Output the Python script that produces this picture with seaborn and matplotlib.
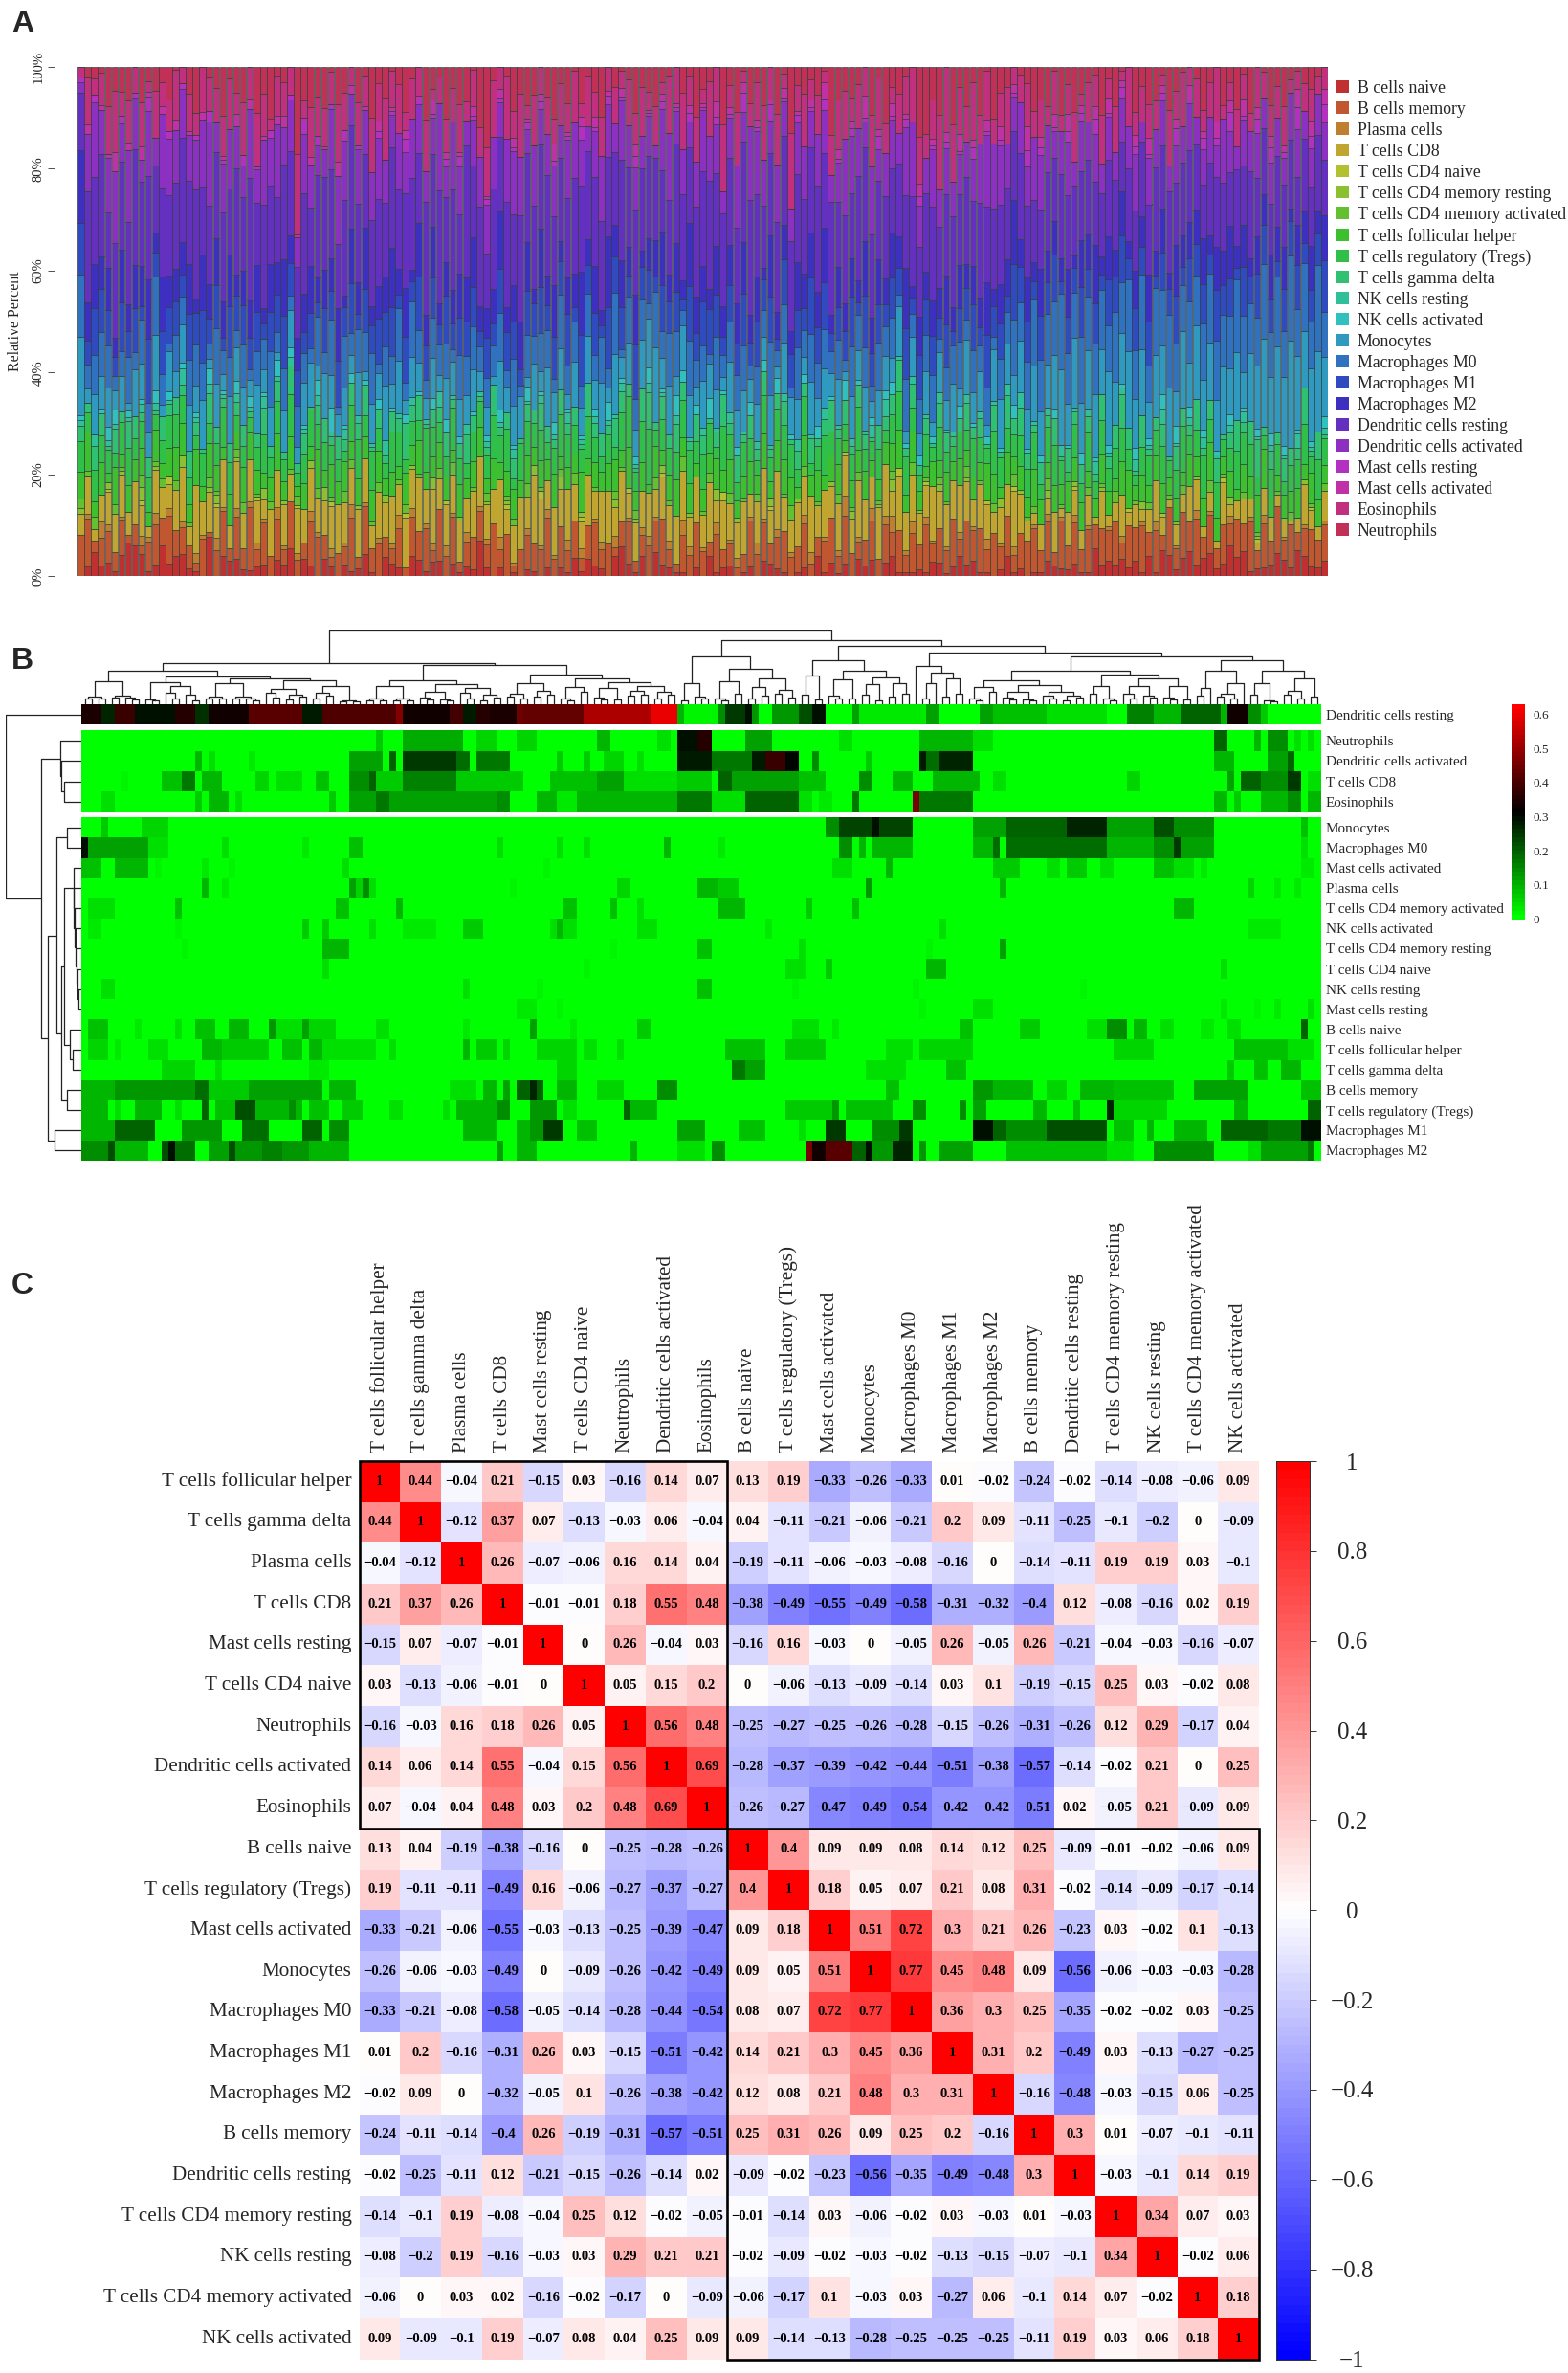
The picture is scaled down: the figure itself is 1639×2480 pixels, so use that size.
# Immune cell fractions: stacked bars, clustered heatmap, correlation matrix
import numpy as np
import pandas as pd
import matplotlib
matplotlib.use("Agg")
import matplotlib.pyplot as plt
from matplotlib.colors import LinearSegmentedColormap
from matplotlib.patches import Patch, Rectangle
import seaborn as sns

W, H = 1639, 2480
N = 185

cell_types = ["B cells naive", "B cells memory", "Plasma cells", "T cells CD8", "T cells CD4 naive",
              "T cells CD4 memory resting", "T cells CD4 memory activated", "T cells follicular helper",
              "T cells regulatory (Tregs)", "T cells gamma delta", "NK cells resting", "NK cells activated",
              "Monocytes", "Macrophages M0", "Macrophages M1", "Macrophages M2", "Dendritic cells resting",
              "Dendritic cells activated", "Mast cells resting", "Mast cells activated", "Eosinophils", "Neutrophils"]

# Panel A: percent per sample, one base-36 character per bar (a=10, b=11, ...)
b_naive = "0262416975 1383642108 0544213304 3604305203 1251053205 4143031227 3020102102 0215143205 7315063211 0204123012 0432101205 1313043403 5111214412 6341102512 0114322311 7343524161 7524735623 8571224652 75324"
b_memory = "8a35a4a252 6a7c8562a1 6b3a6c5b5a 4a54c87265 c3b6a5492a 7a3a6b35a6 8c4a25a67c 4a6a38c572 6a35a8c42a 5a73a4625a 6a58c47a35 8a5c647a59 6b4a8c5a7a 5b8c6a7a49 9c6a4c7a6b 6a8b5a9c7a 4b6a8c6a59 6a8b5a8c6a 57c6a"
plasma = "0103201002 1302010210 3102012103 1020310201 3010201302 0120310201 2030102012 1030201203 0102310204 2010301201 3102010230 1025010302 4013021010 2010301020 0102010201 0010200102 0010020100 2001020010 01001"
cd8 = "4835a8c6a7 2b86ca5f98 7c6ba8d5c9 b6e8c7a9db 8ca6e9c7ba d8f6c9b7ea c8d6ba9fc7 b9ea6c8db7 c6a9e7b8cd 7a9c6ba8e5 bd8fa7c9e8 c7ea9db8fc 6e9ca8fbd8 ea7c95b8da 5374c2a658 2a35c3637a 5264a8352a 3574268351 4a638"
cd4_naive = "0000100001 0002000000 1000001000 0010000100 0000000010 0000100000 0001000020 0000100000 0100001000 0000020000 0010000000 0001000000 0200010000 0000100010 0000000100 0000010000 1000000001 0000100000 00100"
cd4_resting = "1000201003 0100020001 2001000300 1000204000 0100020001 0030001000 1001000200 0300100002 0010002000 1000300100 0020001000 0100200010 3000100200 0100003001 0002000100 0100000200 0010010000 2000100010 01000"
cd4_activated = "2130021003 0120301002 1002301020 0130020103 2001300120 1002030010 3001204010 0203001002 1020030104 0012003010 2000130201 0030120010 2003010210 0301020030 1203010002 0103001020 0102000301 0020100102 00102"
tfh = "5846384756 3847a65847 6384a57469 5736485768 4758a46375 8465739486 5746938475 8365947568 4a57384695 7364859467 5948a63758 4693758465 7a48637594 8465a73846 5a74859674 5863a94756 8473958a64 7385a96475 84a65"
tregs = "6485739a56 7468a57394 5a84637a58 6947a58463 8a5a74a836 5a846a7395 8a6a37a584 6a985a7463 9c5ai4867a 85a63a7495 4a68a75936 a5847a6593 7a96584a63 85a74a9658 7a49c6385a 4968a53796 a48a57c694 6a9753a846 8a597"
gamma = "3264153752 4163527316 4253614735 2635147263 5471625384 6153724651 3724615374 2635184627 5318c26375 2651473625 3624715362 4736254173 5826341762 4735162847 4263817354 2736a51823 6174382561 4835a26374 39261"
nk_resting = "1030210102 0201030102 0102010301 0201020103 0201040102 0103010201 2010301020 1030102011 2010301020 1020103010 2010203010 3010201304 0102010301 0202010304 0102030102 3010203010 4010203010 2030102010 40102"
nk_activated = "1001430201 0302010103 0103020104 0201030501 2010301020 1030402010 2030104010 3010102040 1020501053 0204010203 0304010203 0105010202 3010302010 4010201030 1020301030 1020103020 4050302010 3010204030 10203"
monocytes = "f3a6c4a2b8 5e3a87c6d2 a4c8b3f6a2 b85ac3d76a 4b2a8e6c3a 75b3c8a6d4 a2b6c83a5e 7a4c6b8d3f 5a7cgj8b5c a4d7a3e8b5 a6c3f8b4d7 a5e2b7c4a8 6d3a7b4c9a 5e8b3cfa7d afcbgjchdf gcjbfidhbf dgahcjefdg ciafhkjmlp kenig"
m0 = "c5a8d37c4a 6f82b5c9a3 d6a4c2a8e5 b3d74a6c2e 5b9d3a7c4e 84b6a3c8d5 a7b4e2c6a9 3d8b5a7c4f 2b8a5e7cb4 d6a2e5b8c3 a7d4b2e6c9 a5c3d8b4e7 a3c6b9d4a8 e5b7a3c8da ciedgjfbhe dgcifhdjbg fheahdgifc ejgbdhfiek dhfjc"
m1 = "a5c8b4e7a3 d6b9a4c7e5 a3d8b6c4a9 e7b5a3d6c8 b4a7e9c3a5 d8b4e6a7c3 e5a9b3d7c6 a8e4b7c3d9 a5e8b4c7a3 d6c9b4a7e5 c8b3d7a5e9 c4a7d3e8b5 a7c4e9b6d3 a8c5e7b4d9 a5c8e3b6d7 a4c9e5b7d3 a6e4c8b5d7 a3e6c9b4d8 c5a7e"
m2 = "e8b6d4f7a9 c5e8a6d3f7 b9d5a7e4c8 f6a9d5b7e3 c8e5a9f6b3 d7e4a8c9f5 a8d6b9e3f7 c5a9e6d4f8 b7d4a9e6c5 f8a4d7b9e6 c3f7a5d8b9 e4c7a5f9d6 b8e3c7a9f5 d6a8e4c9f7 b5d8a6e3c9 f5b7d4a8e6 c4f7a9d5b8 e6c4a7f9d3 b8e5c"
dc_resting = "bnmjhkpmrj lhnkqjmoig kmhplnjrkg pimoglrjhq nkhmrjpiln hqkmjogrmk jnhplkqimo gkmqjlpnhi ojmkrlghpn ikqmjlohrp mgknqjohlr jpkmhoqlnj gjhnmkqipj lmhqkjoigm ihgkjlmhij ghkifhgjlk hjigkhfjig ekhjgfhijg dijhf"
dc_activated = "2cj8hfbjc5 d7jeg9cbih 7cfa9dahci ab9ec68dig 7eacjb8d9f c7ah9gd5ea hc8fjb7d9a c8gfa6dhb7 eab8d3gf8c 6ah9d5be8g hc8fa7ec9d b6cjfb7h9a c8gjd9gbe7 c9bgjfib8d ahfc8bg6da c8b7daf5e9 c6b8d7ac8f b6d9c7ea8b d7c9a"
mast_resting = "1020102010 3002010102 0100301020 0104020103 0100201030 1010203010 2010102020 1010301020 1030102010 2010201050 1040102010 3010201040 1020301020 1030102010 4020103020 4010302010 2050103020 5010405020 60405"
mast_activated = "0201040203 1020301020 0103020102 3010201040 2010301020 1040201030 1020301020 4010203010 2030102010 2010402030 2010301020 4030206020 3010402030 5020304020 6030405020 3040203050 2030402040 3050304020 50504"
eosinophils = "2a46fd7b6a 2c68f3a5c7 8ad5f6gb3a 96p4e8b7fa 4b7ecg9b4a 7c35a8d4b6 hd5f8c4b79 6a8e3c7a59 4b8c6a3d9f 7a4b9f6c35 ae8d4g7c5a 39fc6a8df7 4a9ef6bmkc e9f8d6ae47 b7a5d49c3a 8d5c3e69a7 3d8c5a69e3 5a74b6a8c3 57a46"
neutrophils = "0231c57908 3648107a02 5c36a0e7d2 40r8b6c1a7 092d5814a3 0c62f5a71c s302d5b607 c4a1827d05 13c58a4207 2b630d5a18 4a0c2e5637 1fa6840c3d 5720mh9e0c 6a4d1c8502 4c9a1c5b74 2d3a10c5b8 2a7103c409 4b2a01d5c3 14720"

stack_series = [b_naive, b_memory, plasma, cd8, cd4_naive, cd4_resting, cd4_activated, tfh, tregs, gamma, nk_resting,
                nk_activated, monocytes, m0, m1, m2, dc_resting, dc_activated, mast_resting, mast_activated,
                eosinophils, neutrophils]

# Panel B: (first column, last column + 1, fraction), columns not listed are 0
h_dc_resting = [(0, 3, .34), (3, 5, .27), (5, 8, .38), (8, 14, .3), (14, 17, .36), (17, 19, .26), (19, 25, .33), (25, 33, .42), (33, 36, .28), (36, 47, .41), (47, 48, .47), (48, 55, .33), (55, 57, .4), (57, 59, .28), (59, 61, .36), (61, 65, .34), (65, 66, .45), (66, 75, .43), (75, 85, .52), (85, 89, .6), (89, 90, .1), (90, 95, .02), (95, 96, .15), (96, 99, .25), (99, 100, .3), (100, 101, .13), (103, 105, .13), (105, 107, .13), (107, 109, .22), (109, 111, .3), (115, 116, .12), (116, 124, .03), (124, 126, .03), (126, 128, .12), (134, 136, .12), (136, 144, .08), (144, 153, .04), (156, 160, .16), (160, 164, .1), (164, 170, .2), (170, 171, .1), (171, 174, .33), (174, 176, .15), (176, 177, .07)]
h_neutrophils = [(44, 45, .07), (48, 57, .11), (59, 62, .06), (65, 68, .06), (77, 79, .1), (86, 88, .05), (89, 92, .3), (92, 94, .36), (99, 103, .12), (113, 115, .05), (125, 133, .1), (133, 136, .05), (169, 171, .2), (175, 176, .1), (177, 180, .14), (181, 182, .05), (183, 184, .05)]
h_dc_activated = [(17, 18, .1), (19, 20, .04), (25, 26, .03), (40, 45, .12), (46, 47, .2), (48, 56, .25), (56, 58, .18), (59, 64, .17), (71, 72, .07), (75, 76, .07), (78, 81, .06), (83, 84, .05), (89, 94, .28), (94, 100, .17), (100, 102, .28), (102, 105, .38), (105, 107, .31), (109, 110, .15), (117, 118, .07), (125, 126, .28), (126, 128, .18), (128, 133, .27), (169, 172, .1), (177, 180, .12), (180, 181, .2)]
h_cd8 = [(6, 7, .02), (12, 15, .08), (15, 17, .17), (18, 21, .1), (26, 28, .06), (29, 33, .04), (35, 37, .08), (40, 43, .15), (43, 44, .2), (44, 48, .07), (48, 56, .16), (56, 66, .07), (70, 77, .08), (77, 81, .12), (81, 89, .05), (89, 94, .07), (95, 97, .2), (97, 105, .12), (105, 107, .12), (107, 111, .08), (116, 118, .14), (121, 124, .09), (127, 134, .09), (136, 138, .04), (156, 158, .06), (171, 172, .12), (173, 176, .2), (176, 180, .15), (180, 182, .24), (183, 185, .04)]
h_eosinophils = [(3, 5, .05), (17, 18, .07), (19, 22, .09), (23, 24, .05), (37, 38, .07), (40, 44, .12), (44, 46, .17), (46, 62, .12), (62, 64, .15), (68, 71, .1), (71, 74, .03), (74, 81, .09), (81, 89, .1), (89, 94, .17), (94, 99, .05), (99, 105, .2), (105, 107, .2), (107, 109, .04), (110, 112, .03), (115, 116, .17), (124, 125, .46), (125, 133, .17), (169, 171, .1), (172, 173, .07), (176, 180, .1), (180, 182, .15), (183, 185, .1)]
h_monocytes = [(3, 4, .07), (9, 13, .06), (111, 113, .15), (113, 124, .23), (118, 119, .3), (133, 138, .12), (138, 147, .2), (147, 153, .27), (153, 160, .12), (160, 163, .22), (163, 169, .14), (182, 183, .08)]
h_m0 = [(0, 1, .3), (1, 10, .12), (10, 13, .05), (21, 22, .05), (33, 34, .03), (40, 42, .08), (62, 63, .05), (71, 72, .04), (75, 76, .05), (87, 88, .1), (95, 96, .03), (113, 115, .15), (116, 117, .1), (118, 124, .09), (133, 136, .1), (136, 137, .18), (138, 153, .18), (153, 160, .09), (160, 163, .14), (163, 164, .25), (164, 169, .12), (182, 183, .05)]
h_mast_activated = [(0, 3, .08), (5, 10, .1), (11, 12, .02), (18, 19, .03), (22, 23, .02), (39, 40, .05), (69, 70, .02), (112, 115, .04), (120, 121, .09), (136, 140, .07), (144, 146, .05), (147, 150, .07), (152, 154, .05), (160, 163, .08), (163, 166, .05), (167, 168, .03), (182, 184, .03)]
h_plasma = [(18, 19, .1), (21, 22, .03), (40, 41, .12), (41, 42, .06), (42, 43, .15), (43, 44, .05), (64, 65, .02), (80, 82, .06), (92, 95, .1), (95, 98, .07), (117, 118, .13), (137, 138, .1), (174, 175, .06), (178, 179, .03), (181, 182, .03)]
h_cd4_activated = [(1, 5, .05), (14, 15, .08), (38, 40, .08), (47, 48, .1), (72, 74, .08), (79, 80, .08), (83, 84, .05), (95, 99, .09), (108, 109, .07), (115, 116, .08), (163, 166, .1)]
h_nk_activated = [(1, 3, .03), (14, 15, .02), (33, 34, .07), (36, 37, .07), (43, 44, .05), (48, 53, .03), (57, 60, .07), (70, 74, .05), (71, 72, .09), (83, 86, .05), (102, 103, .03), (128, 129, .04), (174, 179, .03)]
h_cd4_resting = [(15, 16, .02), (36, 40, .1), (79, 80, .02), (92, 94, .08), (107, 108, .04), (126, 127, .02), (137, 138, .12)]
h_cd4_naive = [(36, 37, .04), (75, 76, .02), (105, 108, .05), (111, 112, .07), (126, 129, .1), (170, 171, .05)]
h_nk_resting = [(3, 5, .04), (57, 58, .04), (68, 69, .02), (92, 94, .08), (106, 107, .02), (124, 125, .02), (149, 150, .02)]
h_mast_resting = [(65, 68, .03), (71, 72, .02), (125, 126, .02), (133, 136, .05), (170, 171, .03), (175, 176, .02), (178, 179, .03), (183, 184, .04)]
h_b_naive = [(1, 4, .08), (8, 9, .03), (14, 15, .05), (17, 20, .08), (22, 25, .1), (28, 29, .13), (29, 33, .05), (33, 34, .12), (34, 38, .06), (44, 46, .05), (57, 58, .03), (67, 68, .12), (73, 74, .03), (83, 85, .07), (106, 110, .05), (112, 113, .03), (131, 133, .08), (140, 143, .07), (150, 153, .05), (153, 156, .15), (157, 159, .1), (161, 163, .04), (167, 169, .03), (171, 173, .04), (182, 183, .2)]
h_tfh = [(1, 4, .06), (5, 6, .03), (10, 13, .04), (18, 21, .1), (21, 28, .07), (30, 33, .08), (34, 36, .1), (36, 44, .05), (46, 47, .05), (57, 58, .1), (59, 62, .07), (63, 64, .06), (68, 74, .06), (75, 77, .05), (80, 81, .04), (96, 102, .08), (105, 111, .07), (120, 124, .05), (125, 133, .06), (154, 160, .06), (172, 180, .08), (180, 184, .04)]
h_gamma = [(12, 17, .06), (20, 21, .04), (34, 37, .03), (71, 74, .06), (97, 99, .17), (99, 102, .12), (117, 123, .04), (129, 132, .08), (171, 172, .07), (175, 177, .08), (179, 182, .09)]
h_b_memory = [(0, 5, .1), (5, 17, .13), (17, 19, .18), (19, 25, .07), (25, 36, .12), (37, 41, .09), (55, 59, .04), (60, 62, .1), (63, 64, .12), (65, 69, .2), (67, 68, .27), (71, 74, .1), (77, 81, .06), (86, 89, .15), (120, 122, .08), (133, 136, .13), (136, 142, .1), (144, 147, .06), (149, 154, .1), (154, 163, .08), (166, 174, .12), (182, 185, .08)]
h_tregs = [(0, 4, .1), (5, 6, .05), (8, 12, .09), (14, 15, .05), (18, 19, .2), (20, 23, .08), (23, 26, .22), (26, 33, .1), (31, 32, .14), (34, 37, .08), (39, 42, .07), (46, 48, .05), (54, 55, .05), (56, 62, .1), (62, 64, .15), (67, 71, .13), (72, 74, .05), (81, 82, .2), (82, 86, .1), (105, 112, .07), (112, 113, .13), (114, 121, .08), (124, 126, .15), (131, 132, .15), (133, 135, .12), (142, 144, .1), (148, 149, .08), (153, 154, .27), (154, 162, .06), (172, 174, .09), (183, 185, .2)]
h_m1 = [(0, 5, .1), (5, 11, .2), (15, 21, .13), (24, 28, .18), (33, 36, .2), (37, 40, .15), (57, 62, .1), (65, 67, .1), (67, 69, .13), (69, 72, .25), (74, 77, .08), (89, 93, .12), (98, 102, .08), (107, 108, .05), (111, 114, .25), (118, 122, .15), (122, 124, .25), (133, 136, .3), (136, 138, .2), (138, 144, .15), (144, 153, .22), (154, 157, .08), (159, 160, .1), (163, 168, .1), (170, 171, .2), (171, 177, .2), (177, 182, .17), (182, 185, .3)]
h_m2 = [(0, 4, .15), (4, 5, .22), (5, 10, .1), (12, 13, .22), (13, 14, .3), (14, 17, .18), (19, 22, .12), (22, 23, .22), (23, 34, .13), (27, 30, .16), (34, 40, .09), (62, 63, .12), (65, 68, .1), (82, 83, .1), (89, 93, .05), (94, 96, .15), (108, 109, .46), (109, 111, .33), (111, 115, .42), (115, 117, .2), (117, 118, .3), (118, 121, .13), (121, 124, .27), (125, 126, .13), (128, 133, .12), (138, 153, .08), (153, 157, .05), (160, 169, .14), (174, 176, .04), (176, 183, .12), (183, 184, .17)]

top_rows = ["Dendritic cells resting"]
mid_rows = ["Neutrophils", "Dendritic cells activated", "T cells CD8", "Eosinophils"]
low_rows = ["Monocytes", "Macrophages M0", "Mast cells activated", "Plasma cells", "T cells CD4 memory activated",
            "NK cells activated", "T cells CD4 memory resting", "T cells CD4 naive", "NK cells resting",
            "Mast cells resting", "B cells naive", "T cells follicular helper", "T cells gamma delta",
            "B cells memory", "T cells regulatory (Tregs)", "Macrophages M1", "Macrophages M2"]
mid_runs = [h_neutrophils, h_dc_activated, h_cd8, h_eosinophils]
low_runs = [h_monocytes, h_m0, h_mast_activated, h_plasma, h_cd4_activated, h_nk_activated, h_cd4_resting, h_cd4_naive,
            h_nk_resting, h_mast_resting, h_b_naive, h_tfh, h_gamma, h_b_memory, h_tregs, h_m1, h_m2]

# dendrograms: (height, left, right), a plain int is a run of that many leaves
col_tree = (205,
            (114,
             (92, (64, 4, 5),
              (77, (62, 3, (50, 3, 3)), (72, (58, 4, 5), (66, (44, 3, 4), (52, 4, 4))))),
             (110, (67, (50, 4, 4), (56, (36, 3, 3), (45, 3, 4))),
              (82, (60, (30, 2, 2), (38, 2, 2)),
               (72, (48, 3, 2), (62, (46, 3, 2), (50, (38, 2, 2), (36, 2, 2))))))),
            (178,
             (132, (60, 2, 3), (99, (64, 3, 2), (72, (48, 2, 2), (40, 2, 2)))),
             (162,
              (122, (80, 2, 2), (92, (70, 3, 2), (75, (55, 2, 2), (60, 2, 2)))),
              (142,
               (105, 1, (87, (60, 2, 1), (72, 2, 2))),
               (132,
                (92, (67, (48, 3, 2), (54, (36, 3, 3), (34, 3, 4))),
                 (82, (50, 2, 3), (72, (50, 3, 3), (52, 3, 2)))),
                (122, (92, (45, 2, 1), (58, (30, 2, 2), 1)),
                 (94, (60, 2, 3), (72, (38, 2, 2), 2))))))))
run_heights = [22, 30, 16, 26, 34, 19, 28, 14, 24, 32, 18, 27, 12, 21, 29, 17]
row_tree = (151, 1,
            (81,
             (43, 1, (41, 1, (35, 1, 1))),
             (66,
              (50, (28, 1, 1),
               (40, (34, (16, 1, (15, 1, (14, 1, (11, 1, (9, 1, (7, 1, (5, 1, 1))))))),
                     (23, 1, (17, 1, 1))),
                (28, 1, 1))),
              (53, 1, 1))))

# Panel C
corr_order = ["T cells follicular helper", "T cells gamma delta", "Plasma cells", "T cells CD8", "Mast cells resting",
              "T cells CD4 naive", "Neutrophils", "Dendritic cells activated", "Eosinophils", "B cells naive",
              "T cells regulatory (Tregs)", "Mast cells activated", "Monocytes", "Macrophages M0", "Macrophages M1",
              "Macrophages M2", "B cells memory", "Dendritic cells resting", "T cells CD4 memory resting",
              "NK cells resting", "T cells CD4 memory activated", "NK cells activated"]
corr_rows = [
    [1, .44, -.04, .21, -.15, .03, -.16, .14, .07, .13, .19, -.33, -.26, -.33, .01, -.02, -.24, -.02, -.14, -.08, -.06, .09],
    [.44, 1, -.12, .37, .07, -.13, -.03, .06, -.04, .04, -.11, -.21, -.06, -.21, .2, .09, -.11, -.25, -.1, -.2, 0, -.09],
    [-.04, -.12, 1, .26, -.07, -.06, .16, .14, .04, -.19, -.11, -.06, -.03, -.08, -.16, 0, -.14, -.11, .19, .19, .03, -.1],
    [.21, .37, .26, 1, -.01, -.01, .18, .55, .48, -.38, -.49, -.55, -.49, -.58, -.31, -.32, -.4, .12, -.08, -.16, .02, .19],
    [-.15, .07, -.07, -.01, 1, 0, .26, -.04, .03, -.16, .16, -.03, 0, -.05, .26, -.05, .26, -.21, -.04, -.03, -.16, -.07],
    [.03, -.13, -.06, -.01, 0, 1, .05, .15, .2, 0, -.06, -.13, -.09, -.14, .03, .1, -.19, -.15, .25, .03, -.02, .08],
    [-.16, -.03, .16, .18, .26, .05, 1, .56, .48, -.25, -.27, -.25, -.26, -.28, -.15, -.26, -.31, -.26, .12, .29, -.17, .04],
    [.14, .06, .14, .55, -.04, .15, .56, 1, .69, -.28, -.37, -.39, -.42, -.44, -.51, -.38, -.57, -.14, -.02, .21, 0, .25],
    [.07, -.04, .04, .48, .03, .2, .48, .69, 1, -.26, -.27, -.47, -.49, -.54, -.42, -.42, -.51, .02, -.05, .21, -.09, .09],
    [.13, .04, -.19, -.38, -.16, 0, -.25, -.28, -.26, 1, .4, .09, .09, .08, .14, .12, .25, -.09, -.01, -.02, -.06, .09],
    [.19, -.11, -.11, -.49, .16, -.06, -.27, -.37, -.27, .4, 1, .18, .05, .07, .21, .08, .31, -.02, -.14, -.09, -.17, -.14],
    [-.33, -.21, -.06, -.55, -.03, -.13, -.25, -.39, -.47, .09, .18, 1, .51, .72, .3, .21, .26, -.23, .03, -.02, .1, -.13],
    [-.26, -.06, -.03, -.49, 0, -.09, -.26, -.42, -.49, .09, .05, .51, 1, .77, .45, .48, .09, -.56, -.06, -.03, -.03, -.28],
    [-.33, -.21, -.08, -.58, -.05, -.14, -.28, -.44, -.54, .08, .07, .72, .77, 1, .36, .3, .25, -.35, -.02, -.02, .03, -.25],
    [.01, .2, -.16, -.31, .26, .03, -.15, -.51, -.42, .14, .21, .3, .45, .36, 1, .31, .2, -.49, .03, -.13, -.27, -.25],
    [-.02, .09, 0, -.32, -.05, .1, -.26, -.38, -.42, .12, .08, .21, .48, .3, .31, 1, -.16, -.48, -.03, -.15, .06, -.25],
    [-.24, -.11, -.14, -.4, .26, -.19, -.31, -.57, -.51, .25, .31, .26, .09, .25, .2, -.16, 1, .3, .01, -.07, -.1, -.11],
    [-.02, -.25, -.11, .12, -.21, -.15, -.26, -.14, .02, -.09, -.02, -.23, -.56, -.35, -.49, -.48, .3, 1, -.03, -.1, .14, .19],
    [-.14, -.1, .19, -.08, -.04, .25, .12, -.02, -.05, -.01, -.14, .03, -.06, -.02, .03, -.03, .01, -.03, 1, .34, .07, .03],
    [-.08, -.2, .19, -.16, -.03, .03, .29, .21, .21, -.02, -.09, -.02, -.03, -.02, -.13, -.15, -.07, -.1, .34, 1, -.02, .06],
    [-.06, 0, .03, .02, -.16, -.02, -.17, 0, -.09, -.06, -.17, .1, -.03, .03, -.27, .06, -.1, .14, .07, -.02, 1, .18],
    [.09, -.09, -.1, .19, -.07, .08, .04, .25, .09, .09, -.14, -.13, -.28, -.25, -.25, -.25, -.11, .19, .03, .06, .18, 1],
]


def decode(blocks):
    return np.array([int(c, 36) for c in blocks.replace(" ", "").ljust(N, "0")[:N]], dtype=float)


def from_runs(runs):
    row = np.zeros(N)
    for start, end, value in runs:
        row[start:end] = value
    return row


def px_axes(x0, y0, x1, y1):
    return fig.add_axes([x0 / W, 1 - y1 / H, (x1 - x0) / W, (y1 - y0) / H])


def tree_lines(node, leaves, segs, heights, cap):
    # returns (position, height) of a node and collects its line segments
    if isinstance(node, int):
        if node == 1:
            return next(leaves), 0
        h = min(next(heights), cap * .75)
        left = node // 2
        node = (h, left, node - left)
    h, left, right = node
    xl, hl = tree_lines(left, leaves, segs, heights, h)
    xr, hr = tree_lines(right, leaves, segs, heights, h)
    segs.append(([xl, xl, xr, xr], [hl, h, h, hr]))
    return (xl + xr) / 2, h


def cycle(values):
    while True:
        for v in values:
            yield v


sns.set_theme(style="white")
plt.rcParams["font.family"] = ["Liberation Serif", "DejaVu Sans"]
plt.rcParams["axes.unicode_minus"] = True

fig = plt.figure(figsize=(W / 100, H / 100), dpi=100)

for letter, y in zip("ABC", [33, 699, 1352]):
    fig.text(12 / W, 1 - y / H, letter, fontsize=23, fontweight="bold", family="Liberation Sans", va="baseline")

# A: stacked bars
ax = px_axes(81, 70, 1388, 602)
stack = np.array([decode(s) for s in stack_series])
stack = stack / stack.sum(axis=0) * 100
palette = sns.hls_palette(22, h=0, l=.47, s=.6)
samples = np.arange(N)
bottom = np.zeros(N)
for values, color in zip(stack, palette):
    sns.barplot(x=samples, y=values, bottom=bottom, color=color, saturation=1, width=.93, errorbar=None,
                edgecolor="#2b3a33", linewidth=.45, ax=ax)
    bottom = bottom + values
ax.set_xlim(-.5, N - .5)
ax.set_ylim(0, 100)
ax.set_xticks([])
ax.set_xlabel("")
sns.despine(ax=ax, top=True, right=True, bottom=True)
ax.spines["left"].set_position(("outward", 17))
ax.spines["left"].set_linewidth(.6)
ax.spines["left"].set_color("#333333")
ax.set_yticks(range(0, 101, 20))
ax.set_yticklabels([f"{t}%" for t in range(0, 101, 20)], rotation=90, va="center", fontsize=10.5)
ax.tick_params(axis="y", left=True, length=5, width=.6, pad=3, color="#333333")
ax.set_ylabel("Relative Percent", fontsize=11.5, labelpad=7)
handles = [Patch(facecolor=c, edgecolor="none") for c in palette]
ax.legend(handles, cell_types, loc="upper left", bbox_to_anchor=(1397 / W, 1 - 84 / H), bbox_transform=fig.transFigure,
          frameon=False, fontsize=12.8, borderpad=0, borderaxespad=0, handlelength=.72, handleheight=.72,
          handletextpad=.5, labelspacing=.28)

# B: heatmap in three blocks
rg = LinearSegmentedColormap.from_list("gbr", ["#00ff00", "#000000", "#ff0000"], N=50)
hm_kws = dict(cmap=rg, vmin=0, vmax=.628, xticklabels=False)
ax_top = px_axes(85, 736.4, 1381, 757)
ax_mid = px_axes(85, 763.2, 1381, 848.6)
ax_low = px_axes(85, 854.3, 1381, 1213)
cax = px_axes(1580, 736.4, 1594, 960.7)
blocks = [(ax_top, [h_dc_resting], top_rows), (ax_mid, mid_runs, mid_rows), (ax_low, low_runs, low_rows)]
for i, (a, runs, labels) in enumerate(blocks):
    table = pd.DataFrame([from_runs(r) for r in runs], index=labels)
    sns.heatmap(table, ax=a, cbar=i == 0, cbar_ax=cax if i == 0 else None, yticklabels=True, **hm_kws)
    a.yaxis.tick_right()
    a.set_yticklabels(labels, rotation=0, fontsize=10.9)
    a.tick_params(axis="y", length=0, pad=3.5)
cax.set_yticks([0, .1, .2, .3, .4, .5, .6])
cax.set_yticklabels(["0", "0.1", "0.2", "0.3", "0.4", "0.5", "0.6"], fontsize=9.5)
cax.tick_params(axis="y", length=0, pad=6)

# B: dendrograms
ax_dc = px_axes(85, 658, 1381, 736.4)
segs = []
tree_lines(col_tree, iter(samples + .5), segs, cycle(run_heights), 205)
for xs, hs in segs:
    sns.lineplot(x=xs, y=hs, ax=ax_dc, color="#222222", lw=.9, sort=False, estimator=None)
ax_dc.set_xlim(0, N)
ax_dc.set_ylim(0, 206)
ax_dc.axis("off")

row_pos = [746.7] + [763.2 + 21.35 * (i + .5) for i in range(4)] + [854.3 + 21.1 * (i + .5) for i in range(17)]
ax_dr = px_axes(6, 736.4, 85, 1213)
segs = []
tree_lines(row_tree, iter(row_pos), segs, cycle(run_heights), 151)
for ys, hs in segs:
    sns.lineplot(x=hs, y=ys, ax=ax_dr, color="#222222", lw=.9, sort=False, estimator=None, orient="y")
ax_dr.set_xlim(151, 0)
ax_dr.set_ylim(1213, 736.4)
ax_dr.axis("off")

# C: correlation heatmap
corr = pd.DataFrame(corr_rows, index=corr_order, columns=corr_order)
annot = corr.map(lambda v: f"{v:g}".replace("-", "\u2212"))
bwr = LinearSegmentedColormap.from_list("bwr100", ["#0000ff", "#ffffff", "#ff0000"], N=100)
ax_c = px_axes(375.5, 1527, 1316, 2465.5)
cax_c = px_axes(1333.6, 1527, 1369, 2465.5)
sns.heatmap(corr, ax=ax_c, cbar_ax=cax_c, cmap=bwr, vmin=-1, vmax=1, annot=annot, fmt="",
            annot_kws=dict(fontsize=10.5, fontweight="bold", color="black"), xticklabels=True, yticklabels=True)
ax_c.xaxis.tick_top()
ax_c.set_xticklabels(corr_order, rotation=90, fontsize=15.2)
ax_c.set_yticklabels(corr_order, rotation=0, fontsize=15.2)
ax_c.tick_params(axis="x", length=0, pad=6.5)
ax_c.tick_params(axis="y", length=0, pad=5.8)
ax_c.add_patch(Rectangle((0, 0), 9, 9, fill=False, ec="black", lw=1.9, clip_on=False))
ax_c.add_patch(Rectangle((9, 9), 13, 13, fill=False, ec="black", lw=1.9, clip_on=False))
cbar_ticks = [-1, -.8, -.6, -.4, -.2, 0, .2, .4, .6, .8, 1]
cax_c.set_yticks(cbar_ticks)
cax_c.set_yticklabels([f"{t:g}".replace("-", "\u2212") for t in cbar_ticks], fontsize=18, ha="center")
cax_c.tick_params(axis="y", right=True, length=5, width=.7, pad=27, color="#333333")
for side in cax_c.spines.values():
    side.set_visible(True)
    side.set_linewidth(.7)
    side.set_color("#333333")

fig.savefig("out.png", dpi=100)
